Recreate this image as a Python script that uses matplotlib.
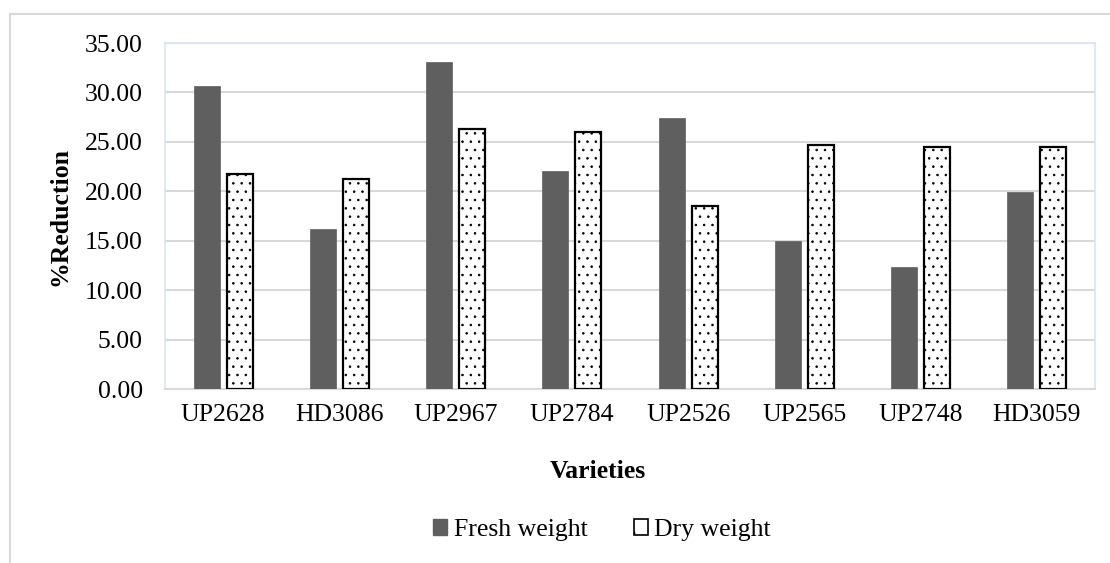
import matplotlib.pyplot as plt
import numpy as np
from matplotlib.patches import Patch
from matplotlib.lines import Line2D

plt.rcParams['font.family'] = ['Liberation Serif', 'DejaVu Serif']
plt.rcParams['hatch.linewidth'] = 0.6

# データ
varieties = ['UP2628', 'HD3086', 'UP2967', 'UP2784', 'UP2526', 'UP2565', 'UP2748', 'HD3059']
fresh_weight = [30.60, 16.23, 33.08, 22.10, 27.44, 14.95, 12.32, 19.91]
dry_weight = [21.77, 21.23, 26.29, 25.99, 18.56, 24.67, 24.50, 24.52]
y_ticks = [0, 5, 10, 15, 20, 25, 30, 35]

W, H = 1110, 563
fig = plt.figure(figsize=(W / 100, H / 100), dpi=100)
ax = fig.add_axes([165 / W, 1 - 389 / H, (1095 - 165) / W, (389 - 43) / H])

x = np.arange(len(varieties))
bw = 0.225
ax.bar(x - 0.142, fresh_weight, bw, color='#5f5f5f', edgecolor='#5f5f5f', linewidth=0.5, zorder=3)
ax.bar(x + 0.142, dry_weight, bw, color='white', edgecolor='black', hatch='..', linewidth=1.6, zorder=3)

ax.set_xlim(-0.5, len(varieties) - 0.5)
ax.set_ylim(0, 35)
ax.set_yticks(y_ticks)
ax.set_yticklabels(['%.2f' % v for v in y_ticks])
ax.set_xticks(x)
ax.set_xticklabels(varieties)
ax.tick_params(axis='both', length=0, labelsize=18.5)
ax.tick_params(axis='y', pad=16)
ax.tick_params(axis='x', pad=11)
ax.yaxis.grid(True, color='#d9d9d9', linewidth=1.5, zorder=0)
ax.set_axisbelow(True)
for s in ['left', 'right', 'top']:
    ax.spines[s].set_color('#dae3f3')
    ax.spines[s].set_linewidth(1.2)
ax.spines['bottom'].set_color('#d9d9d9')
ax.spines['bottom'].set_linewidth(1.5)

# 軸ラベル
fig.text(60 / W, 1 - 216 / H, '%Reduction', rotation=90, ha='center', va='center',
         fontsize=18.5, fontweight='bold')
fig.text(598 / W, 1 - 472 / H, 'Varieties', ha='center', va='center',
         fontsize=18.5, fontweight='bold')

# 凡例
handles = [Patch(facecolor='#5f5f5f', edgecolor='#5f5f5f', label='Fresh weight'),
           Patch(facecolor='white', edgecolor='black', hatch='.', linewidth=1.2, label='Dry weight')]
fig.legend(handles=handles, loc='center', bbox_to_anchor=(602 / W, 1 - 530 / H), ncol=2,
           frameon=False, fontsize=18.5, handlelength=0.55, handleheight=0.55,
           handletextpad=0.25, columnspacing=1.8, borderpad=0)

# 外枠
fig.add_artist(Line2D([10 / W, 1], [1 - 14 / H, 1 - 14 / H], color='#d9d9d9', linewidth=1.5))
fig.add_artist(Line2D([10 / W, 10 / W], [0, 1 - 14 / H], color='#d9d9d9', linewidth=1.5))

fig.savefig('out.png', dpi=100)
